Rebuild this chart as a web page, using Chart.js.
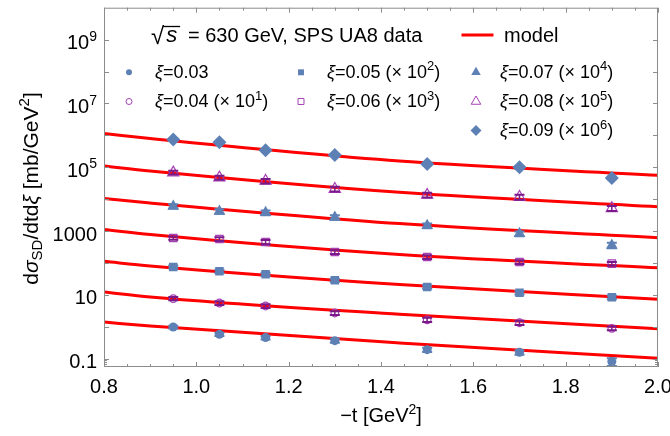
<!DOCTYPE html>
<html>
<head>
<meta charset="utf-8">
<script src="https://cdn.jsdelivr.net/npm/chart.js@4.4.1/dist/chart.umd.min.js"></script>
<style>
  html, body { margin: 0; padding: 0; background: #fff; }
  #wrap { width: 670px; height: 436px; }
</style>
</head>
<body>
<div id="wrap"><canvas id="chart" width="670" height="436"></canvas></div>
<script>
// -t values of the UA8 points
const tData = [0.95, 1.05, 1.15, 1.3, 1.5, 1.7, 1.9];

// measured cross sections (already multiplied by the shift factor), with errors
const xi003 = [0.98, 0.578, 0.455, 0.366, 0.191, 0.157, 0.0805];
const xi003Err = [0.1, 0.07, 0.06, 0.05, 0.03, 0.025, 0.022];
const xi004 = [7.6, 5.53, 4.46, 2.69, 1.65, 1.33, 0.89];
const xi004Err = [0.9, 0.7, 0.6, 0.35, 0.25, 0.2, 0.12];
const xi005 = [74.3, 54.5, 43.9, 28.5, 17.6, 11.7, 8.35];
const xi005Err = [8, 6, 5, 3.5, 2.2, 1.5, 1.1];
const xi006 = [604, 561, 452, 220, 153, 107, 95];
const xi006Err = [70, 75, 70, 30, 20, 14, 12];
const xi007 = [5940, 4150, 3770, 2690, 1480, 828, 356];
const xi007Err = [900, 650, 650, 450, 250, 140, 70];
const xi008 = [67800, 47200, 36900, 20700, 13500, 11600, 5150];
const xi008Err = [9000, 7000, 6000, 3500, 2300, 2000, 900];
const xi009 = [733000, 604000, 339000, 241000, 126000, 99300, 45800];
const xi009Err = [50000, 40000, 25000, 18000, 10000, 8000, 4000];

// model curves, read at a few -t values
const modelT = [0.8, 0.9, 1.44, 2.0];
const model003 = [1.40, 1.05, 0.308, 0.102];
const model004 = [12.2, 8.53, 2.45, 0.859];
const model005 = [112, 80, 20.9, 7.23];
const model006 = [1107, 771, 182, 70.2];
const model007 = [10400, 7550, 1706, 612];
const model008 = [109000, 76000, 16300, 5740];
const model009 = [1130000, 790000, 156000, 55700];

const xiLabels = ["0.03", "0.04", "0.05", "0.06", "0.07", "0.08", "0.09"];
const xiShift = [0, 1, 2, 3, 4, 5, 6];

const xTickValues = [0.8, 1.0, 1.2, 1.4, 1.6, 1.8, 2.0];
const xTickLabels = ["0.8", "1.0", "1.2", "1.4", "1.6", "1.8", "2.0"];
const yTickValues = [0.1, 10, 1000, 1e5, 1e7, 1e9];
const yTickLabels = ["0.1", "10", "1000", "10^5", "10^7", "10^9"];

const BLUE = "#5e81b5";
const PURPLE = "#a540b5";
const PURPLE_DARK = "#7a1a8a";
const RED = "#ff0000";
const FRAME = "#8c8c8c";
const FONT = "'Liberation Sans', Arial, sans-serif";

const pointSeries = [
  { data: xi003, err: xi003Err, style: "circle", r: 4.5, fill: true, legendR: 3 },
  { data: xi004, err: xi004Err, style: "circle", r: 3.8, fill: false, legendR: 3 },
  { data: xi005, err: xi005Err, style: "rect", r: 6, fill: true, legendR: 4.2 },
  { data: xi006, err: xi006Err, style: "rect", r: 5.2, fill: false, legendR: 4.2 },
  { data: xi007, err: xi007Err, style: "triangle", r: 6.8, fill: true, legendR: 5.5 },
  { data: xi008, err: xi008Err, style: "triangle", r: 6.5, fill: false, legendR: 5.5 },
  { data: xi009, err: xi009Err, style: "rectRot", r: 7, fill: true, legendR: 5.5 },
];
const modelSeries = [model003, model004, model005, model006, model007, model008, model009];

// legend placement (marker x, text x) per column, row marker y
const legendCols = [[129, 155], [301, 327], [476, 500]];
const legendRows = [72.3, 101.5, 130.5];
const legendSlots = [[0, 0], [0, 1], [1, 0], [1, 1], [2, 0], [2, 1], [2, 2]];

function partFont(p, size) {
  const small = p[1] === "sup" || p[1] === "sub";
  const s = small ? Math.round(size * 0.7) : size;
  return (p[1] === "i" ? "italic " : "") + s + "px " + FONT;
}

function richWidth(ctx, parts, size) {
  let w = 0;
  parts.forEach((p) => {
    ctx.font = partFont(p, size);
    w += ctx.measureText(p[0]).width;
  });
  return w;
}

function drawRich(ctx, parts, x, y, size, align) {
  const w = richWidth(ctx, parts, size);
  let cx = x;
  if (align === "center") cx = x - w / 2;
  if (align === "right") cx = x - w;
  ctx.textAlign = "left";
  ctx.textBaseline = "alphabetic";
  ctx.fillStyle = "#000";
  parts.forEach((p) => {
    ctx.font = partFont(p, size);
    let dy = 0;
    if (p[1] === "sup") dy = -size * 0.42;
    if (p[1] === "sub") dy = size * 0.22;
    ctx.fillText(p[0], cx, y + dy);
    cx += ctx.measureText(p[0]).width;
  });
}

function tickParts(label) {
  if (label.includes("^")) {
    const [b, e] = label.split("^");
    return [[b], [e, "sup"]];
  }
  return [[label]];
}

function legendParts(i) {
  const parts = [["ξ", "i"], ["=" + xiLabels[i]]];
  if (xiShift[i] > 0) {
    parts.push([" (× 10"], [String(xiShift[i]), "sup"], [")"]);
  }
  return parts;
}

const errorBars = {
  id: "errorBars",
  afterDatasetsDraw(chart) {
    const ctx = chart.ctx;
    const xs = chart.scales.x;
    const ys = chart.scales.y;
    const area = chart.chartArea;
    ctx.save();
    ctx.beginPath();
    ctx.rect(area.left, area.top, area.right - area.left, area.bottom - area.top);
    ctx.clip();
    chart.data.datasets.forEach((ds) => {
      if (!ds.errors) return;
      ctx.strokeStyle = ds.errColor;
      ds.data.forEach((pt, i) => {
        const e = ds.errors[i];
        const x = xs.getPixelForValue(pt.x);
        const y1 = ys.getPixelForValue(pt.y + e);
        const y2 = ys.getPixelForValue(Math.max(pt.y - e, 1e-6));
        ctx.lineWidth = 1.5;
        ctx.beginPath();
        ctx.moveTo(x, y1);
        ctx.lineTo(x, y2);
        ctx.stroke();
        ctx.lineWidth = 2;
        ctx.beginPath();
        ctx.moveTo(x - 5, y1);
        ctx.lineTo(x + 5, y1);
        ctx.moveTo(x - 5, y2);
        ctx.lineTo(x + 5, y2);
        ctx.stroke();
      });
    });
    ctx.restore();
  },
};

const frameAndText = {
  id: "frameAndText",
  afterDraw(chart) {
    const ctx = chart.ctx;
    const xs = chart.scales.x;
    const ys = chart.scales.y;
    const a = chart.chartArea;
    ctx.save();

    // frame
    ctx.strokeStyle = FRAME;
    ctx.lineWidth = 1;
    ctx.strokeRect(a.left + 0.5, a.top + 0.5, a.right - a.left - 1, a.bottom - a.top - 1);

    // x ticks (major + minor, bottom and top)
    ctx.beginPath();
    for (let k = 0; k <= 24; k++) {
      const v = 0.8 + k * 0.05;
      const x = Math.round(xs.getPixelForValue(v)) + 0.5;
      const len = k % 4 === 0 ? 5 : 3;
      ctx.moveTo(x, a.bottom);
      ctx.lineTo(x, a.bottom - len);
      ctx.moveTo(x, a.top);
      ctx.lineTo(x, a.top + len);
    }
    // y ticks, one per decade, plus minors in the lowest decade
    for (let p = -1; p <= 9; p++) {
      const y = Math.round(ys.getPixelForValue(Math.pow(10, p))) + 0.5;
      ctx.moveTo(a.left, y);
      ctx.lineTo(a.left + 5, y);
      ctx.moveTo(a.right, y);
      ctx.lineTo(a.right - 5, y);
    }
    [0.06, 0.07, 0.08, 0.09].forEach((v) => {
      const y = Math.round(ys.getPixelForValue(v)) + 0.5;
      ctx.moveTo(a.left, y);
      ctx.lineTo(a.left + 3, y);
      ctx.moveTo(a.right, y);
      ctx.lineTo(a.right - 3, y);
    });
    ctx.stroke();

    // tick labels
    xTickValues.forEach((v, i) => {
      drawRich(ctx, [[xTickLabels[i]]], xs.getPixelForValue(v), 393, 20, "center");
    });
    yTickValues.forEach((v, i) => {
      drawRich(ctx, tickParts(yTickLabels[i]), 97, ys.getPixelForValue(v) + 9.5, 20, "right");
    });

    // axis titles
    drawRich(ctx, [["−t [GeV"], ["2", "sup"], ["]"]], (a.left + a.right) / 2, 422, 20, "center");
    ctx.save();
    ctx.translate(37.5, 188.5);
    ctx.rotate(-Math.PI / 2);
    drawRich(ctx, [["d"], ["σ", "i"], ["SD", "sub"], ["/dtd"], ["ξ", "i"], [" [mb/GeV"], ["2", "sup"], ["]"]], 0, 0, 21, "center");
    ctx.restore();

    // title line: sqrt(s) = 630 GeV ...
    ctx.fillStyle = "#000";
    ctx.font = "24px " + FONT;
    ctx.textAlign = "left";
    ctx.textBaseline = "alphabetic";
    ctx.fillText("√", 151, 44);
    const rootW = ctx.measureText("√").width;
    ctx.font = "italic 22px " + FONT;
    ctx.fillText("s", 151 + rootW + 2, 42.3);
    const sW = ctx.measureText("s").width;
    ctx.strokeStyle = "#000";
    ctx.lineWidth = 1.3;
    ctx.beginPath();
    ctx.moveTo(151 + rootW - 1, 26.5);
    ctx.lineTo(151 + rootW + sW + 5, 26.5);
    ctx.stroke();
    drawRich(ctx, [["= 630 GeV, SPS UA8 data"]], 188, 42.3, 20, "left");

    ctx.strokeStyle = RED;
    ctx.lineWidth = 3;
    ctx.beginPath();
    ctx.moveTo(461.5, 35);
    ctx.lineTo(493.5, 35);
    ctx.stroke();
    drawRich(ctx, [["model"]], 504, 42.3, 20, "left");

    // point legend
    pointSeries.forEach((s, i) => {
      const [c, r] = legendSlots[i];
      const mx = legendCols[c][0];
      const tx = legendCols[c][1];
      const my = legendRows[r];
      ctx.fillStyle = s.fill ? BLUE : "rgba(0,0,0,0)";
      ctx.strokeStyle = s.fill ? BLUE : PURPLE;
      ctx.lineWidth = 1;
      Chart.helpers.drawPoint(ctx, { pointStyle: s.style, radius: s.legendR, rotation: 0, borderWidth: s.fill ? 0 : 1 }, mx, my);
      drawRich(ctx, legendParts(i), tx, my + 5.6, 18, "left");
    });

    ctx.restore();
  },
};

const modelDatasets = modelSeries.map((vals, i) => ({
  label: "model " + xiLabels[i],
  data: modelT.map((t, j) => ({ x: t, y: vals[j] })),
  showLine: true,
  borderColor: RED,
  borderWidth: 3,
  pointRadius: 0,
  cubicInterpolationMode: "monotone",
  order: 2,
}));

const pointDatasets = pointSeries.map((s, i) => ({
  label: "ξ=" + xiLabels[i],
  data: tData.map((t, j) => ({ x: t, y: s.data[j] })),
  errors: s.err,
  errColor: s.fill ? BLUE : PURPLE_DARK,
  pointStyle: s.style,
  pointRadius: s.r,
  pointBackgroundColor: s.fill ? BLUE : "rgba(0,0,0,0)",
  pointBorderColor: s.fill ? BLUE : PURPLE,
  pointBorderWidth: s.fill ? 0 : 1.2,
  showLine: false,
  order: 1,
}));

new Chart(document.getElementById("chart"), {
  type: "scatter",
  data: { datasets: [...modelDatasets, ...pointDatasets] },
  options: {
    responsive: false,
    animation: false,
    events: [],
    layout: { padding: { left: 104, right: 12, top: 7, bottom: 69 } },
    plugins: { legend: { display: false }, tooltip: { enabled: false } },
    scales: {
      x: { type: "linear", min: 0.8, max: 2.0, display: false },
      y: { type: "logarithmic", min: 0.0546, max: 1e10, display: false },
    },
  },
  plugins: [errorBars, frameAndText],
});
</script>
</body>
</html>
